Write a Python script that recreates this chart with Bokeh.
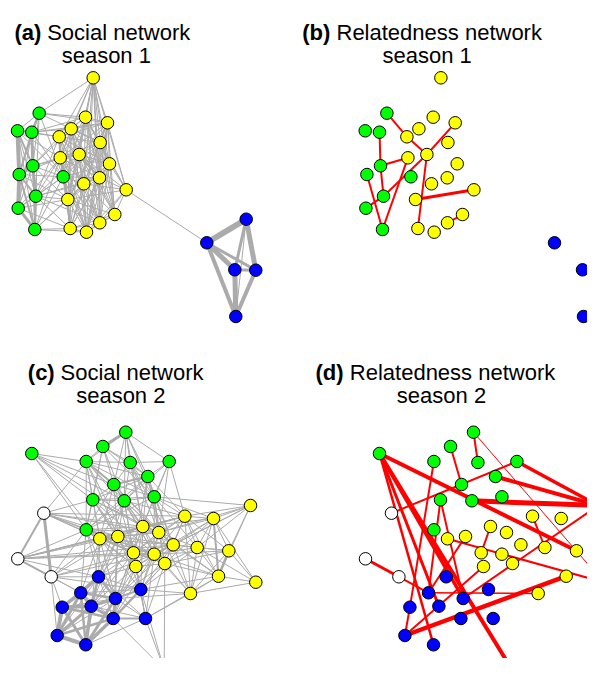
from bokeh.plotting import figure
from bokeh.models import ColumnDataSource, Range1d
from bokeh.embed import file_html
from bokeh.resources import INLINE
from bokeh.core.properties import value

# ---------------- Season 1 layout (node positions, shared by panels a and b) ----------------
S1_X = [92.7, 85.0, 107.0, 70.7, 58.7, 99.7, 78.7, 59.7, 109.0, 99.0, 83.3, 125.7, 67.3, 114.3, 99.3, 69.7, 86.0,
        38.7, 17.0, 31.3, 32.3, 18.7, 62.7, 35.3, 17.7, 34.3,
        245.7, 206.3, 234.3, 255.3, 235.3]
S1_Y = [77.3, 116.7, 122.3, 128.3, 136.3, 142.0, 154.0, 157.3, 163.3, 177.3, 183.3, 189.3, 199.0, 214.0, 222.3, 228.0, 231.7,
        112.7, 130.3, 131.7, 165.3, 174.0, 176.3, 195.7, 207.7, 229.0,
        218.7, 242.3, 269.3, 269.7, 316.0]
S1_GROUP = "YYYYYYYYYYYYYYYYYGGGGGGGGGBBBBB"

# ---------------- Season 2 layout (shared by panels c and d) ----------------
S2_X = [125.3, 102.3, 31.3, 85.7, 129.7, 168.7, 147.3, 113.3, 92.3, 123.7, 153.7, 85.7,
        43.3, 17.3, 50.7,
        250.0, 184.3, 213.0, 142.3, 158.3, 99.3, 117.3, 172.7, 196.7, 228.3, 133.0, 153.7, 164.3, 135.3, 218.0, 255.3, 190.0,
        98.0, 140.3, 80.3, 115.0, 61.7, 90.7, 112.7, 145.0, 56.7, 85.3, 163.7]
S2_Y = [431.7, 446.0, 453.0, 461.0, 462.0, 461.0, 476.0, 484.0, 499.3, 500.3, 496.3, 529.3,
        512.7, 558.3, 576.3,
        505.0, 515.7, 518.0, 526.0, 532.0, 538.3, 536.0, 544.3, 547.0, 550.3, 552.3, 553.7, 563.0, 566.0, 575.7, 581.7, 593.0,
        576.3, 589.0, 592.3, 598.0, 606.7, 605.7, 618.0, 618.0, 635.0, 644.3, 669.0]
S2_GROUP = "GGGGGGGGGGGGWWWYYYYYYYYYYYYYYYYYBBBBBBBBBBB"

# ---------------- Social network, season 1 (neighbours with higher index) ----------------
SOCIAL1_ADJ = {
    0: "1 2 3 4 5 6 7 8 9 10 11 12 13 14 16 17",
    1: "2 3 4 5 6 7 8 9 10 11 12 13 14 17 19 22",
    2: "3 4 5 6 7 8 9 10 11 12 13 14 16 17 19",
    3: "4 5 6 7 8 9 10 12 13 15 16 17 19 20 22",
    4: "5 6 7 8 9 10 12 14 15 16 18 19 20 22 23",
    5: "6 7 8 9 10 11 12 13 14 15 16 22",
    6: "7 8 9 10 11 12 13 14 15 16 20 22 23",
    7: "8 9 10 12 14 15 16 18 20 21 22 23 24 25",
    8: "9 10 11 12 13 14 15 16 22",
    9: "10 11 12 13 14 15 16 22 23",
    10: "11 12 13 14 15 16 22 23 25",
    11: "12 13 14 16 27",
    12: "13 14 15 16 20 21 22 23 24 25",
    13: "14 15 16",
    14: "15 16 22 23",
    15: "16 22 23 24 25",
    16: "22 25",
    17: "18 19 20 21 22 23",
    18: "19 20 21 22 23 24 25",
    19: "20 21 22 23 24 25",
    20: "21 22 23 24 25",
    21: "22 23 24 25",
    22: "23 24 25",
    23: "24 25",
    24: "25",
    26: "27 28 29 30",
    27: "28 29 30",
    28: "29 30",
    29: "30",
}
SOCIAL1_HEAVY = {(18, 21): 4, (21, 24): 4, (19, 20): 3, (20, 23): 3, (23, 25): 2.5, (24, 25): 3,
                 (18, 19): 2, (17, 19): 2.5, (20, 21): 2.5, (21, 23): 2, (7, 12): 2, (12, 15): 2,
                 (18, 20): 2, (21, 25): 2, (19, 21): 2, (4, 7): 1.8, (3, 5): 1.8, (6, 9): 1.8,
                 (26, 27): 6, (27, 28): 5, (27, 29): 3, (26, 29): 5, (28, 30): 5, (27, 30): 4,
                 (29, 30): 4, (26, 28): 3, (28, 29): 3}

# ---------------- Social network, season 2 ----------------
SOCIAL2_ADJ = {
    0: "1 3 4 5 6 7 9 10 18",
    1: "3 4 6 7 8 9 10 11",
    2: "3 7 8 9 11 18 20",
    3: "4 6 7 8 9 10 11 12 18 20 21 25",
    4: "5 6 7 9 10 18 19 22",
    5: "6 9 10 16 18 19",
    6: "7 8 9 10 11 16 18 19 22 25",
    7: "8 9 10 11 18 19 20 21 22 25 26",
    8: "9 10 11 12 18 19 20 21 25 26 28",
    9: "10 11 16 18 19 20 21 22 25 26 28 32",
    10: "11 15 16 17 18 19 22 23 26 27",
    11: "12 13 14 18 19 20 21 25 26 28 32 34 35",
    12: "13 14 16 18 19 20 21 25 26",
    13: "14 16 18 20 21 22 25 26 32 34",
    14: "20 21 25 26 32 33 34 36 40",
    15: "16 17 19 22 23 24 26 29",
    16: "17 18 19 20 21 22 23 24 25 26 27 29 31",
    17: "18 19 22 23 24 26 27 29 30 31",
    18: "19 20 21 22 25 26 27 28 32 33 35 37",
    19: "20 21 22 23 25 26 27 28 29 31 33",
    20: "21 22 25 26 27 28 32 33 34 35 37",
    21: "22 25 26 27 28 32 33 35 37 38",
    22: "23 24 25 26 27 28 29 31 33 35",
    23: "24 26 27 29 30 31 33",
    24: "26 27 29 30 31",
    25: "26 27 28 32 33 35 37 38 39",
    26: "27 28 29 31 32 33 35 38 39",
    27: "28 29 31 33 35 38 39 42",
    28: "32 33 35 37 38 39",
    29: "30 31 33 39",
    30: "31",
    31: "33 35 39",
    32: "33 34 35 36 37 38 39 40 41",
    33: "34 35 37 38 39 42",
    34: "35 36 37 38 40 41",
    35: "36 37 38 39 40 41",
    36: "37 38 40 41",
    37: "38 39 40 41",
    38: "39 40 41 42",
    39: "41 42",
    40: "41",
}
SOCIAL2_HEAVY = {(36, 40): 4, (40, 41): 4, (36, 37): 3.5, (34, 36): 3.5, (34, 37): 3.5, (37, 41): 3.5,
                 (38, 41): 3.5, (32, 34): 3.5, (35, 38): 3, (34, 40): 3, (12, 14): 3, (13, 14): 2,
                 (12, 13): 2, (0, 1): 3, (17, 29): 2, (24, 29): 2.5, (3, 7): 2, (6, 7): 2,
                 (35, 41): 3, (37, 40): 3, (32, 35): 2.5, (33, 38): 2.5, (32, 37): 2.5,
                 (36, 41): 3, (37, 38): 3, (34, 35): 2.5, (35, 37): 3, (32, 36): 2.5,
                 (38, 40): 2.5, (34, 41): 2.5, (33, 35): 2, (36, 38): 2.5, (38, 39): 2}

# ---------------- Relatedness networks (i, j, weight) ----------------
RELATED1 = [(17, 4, 2), (4, 6, 2), (6, 2, 2), (6, 15, 2), (12, 11, 3), (19, 20, 2), (20, 7, 2),
            (7, 25, 2), (23, 6, 2), (20, 23, 2), (21, 25, 2), (24, 23, 2), (13, 14, 2)]
RELATED2 = [(0, 4, 2), (0, 30, 1), (1, 7, 2), (2, 24, 4), (2, 41, 2.5), (2, 37, 3), (2, 35, 3.5),
            (2, 42, 4), (5, 15, 3.5), (6, 15, 4), (9, 15, 5), (12, 5, 2), (3, 36, 2), (8, 34, 2),
            (8, 35, 2), (13, 14, 3), (14, 34, 2), (15, 35, 2), (16, 23, 2), (18, 25, 2), (20, 30, 2),
            (21, 34, 2), (29, 40, 4.5), (31, 34, 1.5), (36, 40, 2), (40, 28, 2)]

TITLES = [("(a)", "Social network", "season 1"), ("(b)", "Relatedness network", "season 1"),
          ("(c)", "Social network", "season 2"), ("(d)", "Relatedness network", "season 2")]

COLORS = {"Y": "#FFFF00", "G": "#00FF00", "B": "#0000FF", "W": "#FFFFFF"}
SHIFT = 347.7  # horizontal offset of the right-hand panels

p = figure(width=587, height=658, x_range=Range1d(0, 587), y_range=Range1d(658, 0),
           output_backend="svg", toolbar_location=None, x_axis_location=None,
           y_axis_location=None, min_border=0)
p.grid.visible = False
p.outline_line_color = None
p.background_fill_color = "white"


def adj_edges(adj, heavy, xs, ys, dx):
    ex, ey, ew = [], [], []
    for i, nb in adj.items():
        for j in map(int, nb.split()):
            ex.append([xs[i] + dx, xs[j] + dx])
            ey.append([ys[i], ys[j]])
            ew.append(heavy.get((min(i, j), max(i, j)), 1.0))
    return dict(xs=ex, ys=ey, w=ew)


def list_edges(lst, xs, ys, dx):
    ex, ey, ew = [], [], []
    for i, j, w in lst:
        ex.append([xs[i] + dx, xs[j] + dx])
        ey.append([ys[i], ys[j]])
        ew.append(w)
    return dict(xs=ex, ys=ey, w=ew)


def draw_nodes(xs, ys, groups, dx):
    src = ColumnDataSource(dict(x=[x + dx for x in xs], y=ys, c=[COLORS[g] for g in groups]))
    p.scatter("x", "y", source=src, size=12.5, fill_color="c", line_color="black", line_width=1)


GRAY = "#ABABAB"
p.multi_line("xs", "ys", source=ColumnDataSource(adj_edges(SOCIAL1_ADJ, SOCIAL1_HEAVY, S1_X, S1_Y, 0)),
             line_color=GRAY, line_width="w")
draw_nodes(S1_X, S1_Y, S1_GROUP, 0)
p.multi_line("xs", "ys", source=ColumnDataSource(list_edges(RELATED1, S1_X, S1_Y, SHIFT)),
             line_color="#FF0000", line_width="w")
draw_nodes(S1_X, S1_Y, S1_GROUP, SHIFT)
p.multi_line("xs", "ys", source=ColumnDataSource(adj_edges(SOCIAL2_ADJ, SOCIAL2_HEAVY, S2_X, S2_Y, 0)),
             line_color=GRAY, line_width="w")
draw_nodes(S2_X, S2_Y, S2_GROUP, 0)
p.multi_line("xs", "ys", source=ColumnDataSource(list_edges(RELATED2, S2_X, S2_Y, SHIFT)),
             line_color="#FF0000", line_width="w")
draw_nodes(S2_X, S2_Y, S2_GROUP, SHIFT)

# titles: (label x, name x, line1 baseline, line2 centre, line2 baseline)
TITLE_POS = [(14, 46.7, 31.7, 105.8, 55.0), (301.7, 336.0, 31.7, 426.7, 55.0),
             (27.3, 60.0, 371.7, 120.3, 395.0), (315.0, 349.3, 371.7, 441.0, 395.0)]
font = value("Liberation Sans")
for (lab, name, sea), (lx, nx, y1, cx, y2) in zip(TITLES, TITLE_POS):
    p.text(x=[lx], y=[y1], text=[lab], text_font=font, text_font_style="bold",
           text_font_size="22px", text_align="left", text_baseline="alphabetic", text_color="black")
    p.text(x=[nx], y=[y1], text=[name], text_font=font, text_font_size="22px",
           text_align="left", text_baseline="alphabetic", text_color="black")
    p.text(x=[cx], y=[y2], text=[sea], text_font=font, text_font_size="22px",
           text_align="center", text_baseline="alphabetic", text_color="black")

open("out.html", "w").write(file_html(p, INLINE))
